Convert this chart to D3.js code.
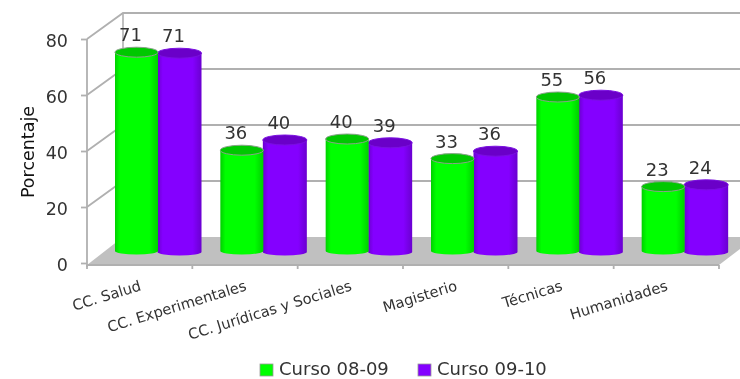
<!DOCTYPE html>
<html><head><meta charset="utf-8">
<script src="https://cdn.jsdelivr.net/npm/d3@7"></script>
<style>html,body{margin:0;padding:0;background:#fff;overflow:hidden}svg{display:block;filter:blur(0.7px)}text{font-family:"DejaVu Sans",sans-serif;fill:#333}</style>
</head><body><svg id="c" width="740" height="379"></svg>
<script>
const categories=["CC. Salud","CC. Experimentales","CC. Jurídicas y Sociales","Magisterio","Técnicas","Humanidades"];
const curso0809=[71,36,40,33,55,23];
const curso0910=[71,40,39,36,56,24];
const seriesNames=["Curso 08-09","Curso 09-10"];
const yTicks=[0,20,40,60,80];

const svg=d3.select("#c");
const W=740,H=379,dx=36,dy=-26,grid="#b0b0b0";
const x=d3.scaleBand().domain(categories).range([87,719]).padding(0);
const y=d3.scaleLinear().domain([0,80]).range([263,39]);
const sub=d3.scaleBand().domain(seriesNames).range([28,114]);
const defs=svg.append("defs");
function grad(id,edge,mid){
  const g=defs.append("linearGradient").attr("id",id);
  [[0,edge],[.12,mid],[.8,mid],[1,edge]].forEach(s=>g.append("stop").attr("offset",s[0]).attr("stop-color",s[1]));
}
grad("gG","#00d000","#00ff00");grad("gP","#6a00d0","#8400ff");

// walls and gridlines
const g=svg.append("g");
yTicks.filter(t=>t>0).forEach(t=>{
  g.append("path").attr("fill","none").attr("stroke",grid).attr("stroke-width",1.8)
   .attr("d",`M87,${y(t)}L${87+dx},${y(t)+dy}L${W},${y(t)+dy}`);
});
g.append("line").attr("x1",87+dx).attr("x2",87+dx).attr("y1",y(80)+dy).attr("y2",y(0)+dy).attr("stroke",grid).attr("stroke-width",1.6);
g.append("path").attr("fill","#c0c0c0").attr("d",`M87,265L${87+dx},${y(0)+dy}L${W},${y(0)+dy}L${W},249L719,265Z`);
g.append("line").attr("x1",87).attr("x2",719).attr("y1",265).attr("y2",265).attr("stroke",grid).attr("stroke-width",1.8);

// axes
const ax=svg.append("g").attr("transform","translate(87,0)").call(d3.axisLeft(y).tickValues(yTicks).tickSize(6).tickPadding(13));
ax.select(".domain").attr("stroke",grid).attr("stroke-width",1.8).attr("d","M0,39V267");
ax.selectAll(".tick line").attr("stroke",grid).attr("stroke-width",1.8);
ax.selectAll("text").style("font-size","17.5px").style("font-family",'"DejaVu Sans",sans-serif').attr("fill","#333").attr("dy","0.42em");
[...categories.map(c=>x(c)),719].forEach(p=>{
  g.append("line").attr("x1",p).attr("x2",p).attr("y1",265).attr("y2",269).attr("stroke",grid).attr("stroke-width",1.8);
});

// cylinders
const bars=svg.append("g");
function cyl(name,vals,gradId,top,stroke,base,rx){
  categories.forEach((c,i)=>{
    const cx=x(c)+sub(name)+sub.bandwidth()/2, by=y(0)-base, ty=y(vals[i])-base, ry=5;
    const gg=bars.append("g");
    gg.append("path").attr("fill",`url(#${gradId})`)
      .attr("d",`M${cx-rx},${ty}L${cx-rx},${by}A${rx},3.5 0 0 0 ${cx+rx},${by}L${cx+rx},${ty}Z`);
    gg.append("ellipse").attr("cx",cx).attr("cy",ty).attr("rx",rx).attr("ry",ry).attr("fill",top).attr("stroke",stroke).attr("stroke-width",1);
    svg.append("text").attr("class","lab").attr("x",cx-6).attr("y",ty-11).attr("text-anchor","middle").style("font-size","18px").text(vals[i]);
  });
}
cyl(seriesNames[1],curso0910,"gP","#6a00c8","#7a10e0",11,22);
cyl(seriesNames[0],curso0809,"gG","#00c800","#8aa08a",12,21.5);
svg.selectAll("text.lab").raise();

// category labels
categories.forEach(c=>{
  svg.append("text").attr("transform",`translate(${x(c)+55},${290}) rotate(-17)`).attr("text-anchor","end")
    .style("font-size","14.7px").text(c);
});

// axis title
svg.append("text").attr("transform","translate(34,152) rotate(-90)").attr("text-anchor","middle").style("font-size","17.5px").style("fill","#111").text("Porcentaje");

// legend
const lx=[260,418],col=["#00ff00","#8400ff"];
seriesNames.forEach((s,i)=>{
  svg.append("rect").attr("x",lx[i]).attr("y",364).attr("width",13).attr("height",12).attr("fill",col[i]).attr("stroke","#999").attr("stroke-width",.8);
  svg.append("text").attr("x",lx[i]+19).attr("y",374.5).style("font-size","18px").text(s);
});
</script></body></html>
